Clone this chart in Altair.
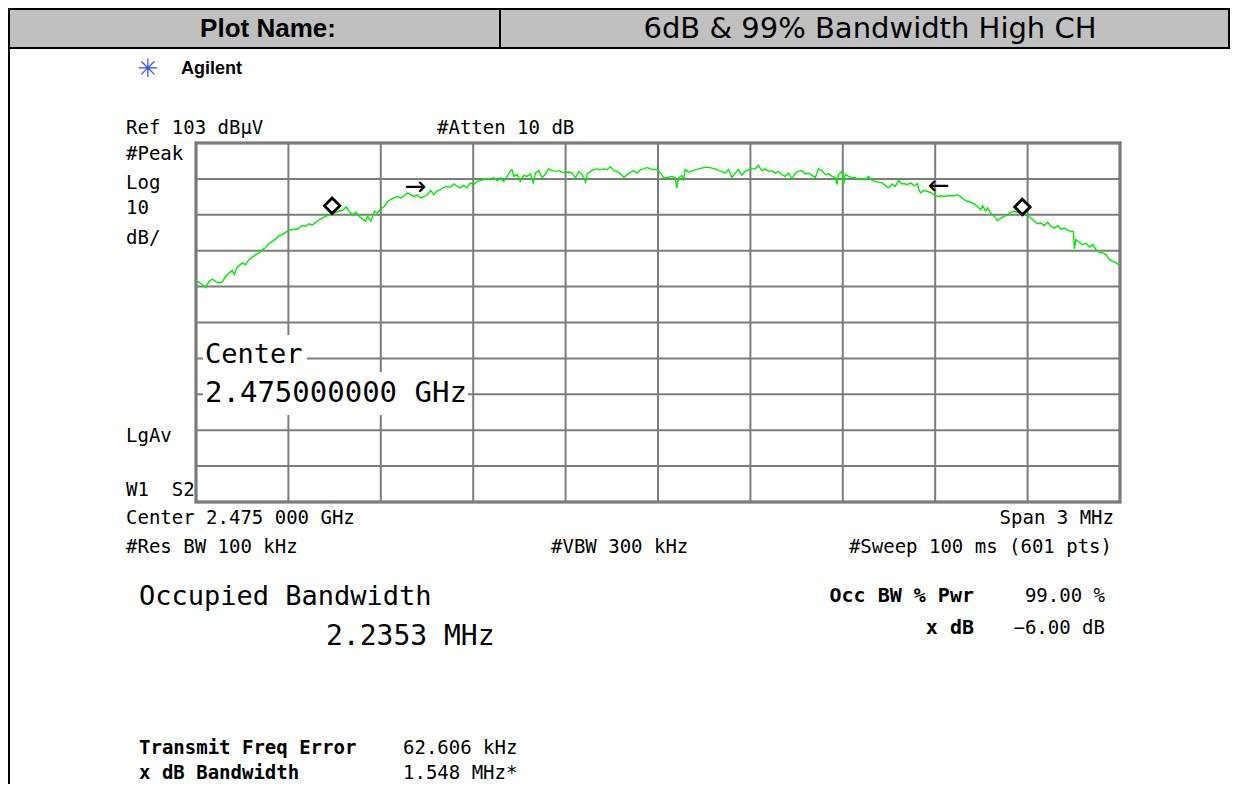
import altair as alt
import pandas as pd

CENTER_GHZ = 2.475
# frequency offset from centre (MHz) and level (dBuV) of the green trace
offset_mhz = [
    -1.500, -1.490, -1.479, -1.469, -1.458, -1.447, -1.436, -1.425, -1.414, -1.404,
    -1.393, -1.382, -1.376, -1.366, -1.349, -1.339, -1.328, -1.317, -1.306, -1.295,
    -1.284, -1.274, -1.263, -1.252, -1.241, -1.230, -1.220, -1.209, -1.198, -1.187,
    -1.176, -1.165, -1.155, -1.144, -1.133, -1.122, -1.111, -1.101, -1.090, -1.079,
    -1.068, -1.057, -1.046, -1.036, -1.025, -1.012, -1.003, -0.992, -0.981, -0.970,
    -0.960, -0.949, -0.943, -0.932, -0.921, -0.911, -0.900, -0.889, -0.878, -0.868,
    -0.857, -0.846, -0.835, -0.824, -0.813, -0.803, -0.792, -0.781, -0.770, -0.759,
    -0.749, -0.738, -0.728, -0.717, -0.706, -0.696, -0.685, -0.674, -0.663, -0.652,
    -0.641, -0.631, -0.620, -0.609, -0.598, -0.587, -0.577, -0.566, -0.555, -0.544,
    -0.533, -0.522, -0.512, -0.501, -0.490, -0.479, -0.474, -0.468, -0.457, -0.447,
    -0.436, -0.425, -0.414, -0.405, -0.398, -0.387, -0.376, -0.365, -0.355, -0.344,
    -0.333, -0.322, -0.311, -0.300, -0.290, -0.279, -0.268, -0.257, -0.246, -0.235,
    -0.230, -0.219, -0.209, -0.197, -0.187, -0.176, -0.165, -0.154, -0.144, -0.133,
    -0.122, -0.111, -0.100, -0.089, -0.079, -0.068, -0.057, -0.046, -0.035, -0.024,
    -0.014, -0.003, 0.008, 0.019, 0.030, 0.045, 0.056, 0.061, 0.067, 0.077,
    0.083, 0.088, 0.099, 0.110, 0.121, 0.132, 0.142, 0.153, 0.164, 0.175,
    0.186, 0.197, 0.207, 0.218, 0.229, 0.240, 0.251, 0.261, 0.272, 0.283,
    0.294, 0.305, 0.316, 0.326, 0.337, 0.348, 0.359, 0.370, 0.381, 0.391,
    0.402, 0.413, 0.424, 0.435, 0.446, 0.456, 0.467, 0.478, 0.489, 0.500,
    0.511, 0.521, 0.532, 0.543, 0.554, 0.565, 0.576, 0.581, 0.586, 0.597,
    0.603, 0.608, 0.619, 0.630, 0.640, 0.651, 0.662, 0.673, 0.684, 0.695,
    0.705, 0.716, 0.727, 0.738, 0.749, 0.760, 0.770, 0.781, 0.792, 0.798,
    0.809, 0.820, 0.831, 0.842, 0.847, 0.853, 0.864, 0.875, 0.886, 0.896,
    0.907, 0.918, 0.929, 0.940, 0.950, 0.961, 0.972, 0.983, 0.994, 1.005,
    1.015, 1.026, 1.037, 1.048, 1.054, 1.064, 1.070, 1.080, 1.091, 1.102,
    1.113, 1.124, 1.135, 1.145, 1.156, 1.167, 1.178, 1.189, 1.200, 1.211,
    1.222, 1.232, 1.243, 1.254, 1.265, 1.276, 1.287, 1.298, 1.308, 1.319,
    1.330, 1.341, 1.349, 1.352, 1.357, 1.368, 1.379, 1.390, 1.401, 1.412,
    1.422, 1.433, 1.444, 1.455, 1.466, 1.477, 1.488, 1.500,
]
level_dbuv = [
    64.7, 64.2, 63.5, 62.7, 64.4, 65.1, 64.4, 64.0, 64.4, 65.8,
    66.8, 67.5, 66.3, 68.5, 69.6, 69.1, 70.5, 71.2, 71.9, 72.4,
    73.3, 73.8, 75.0, 75.6, 76.3, 77.2, 77.5, 78.1, 78.7, 78.9,
    78.9, 79.3, 80.0, 79.8, 80.5, 80.2, 80.9, 81.6, 82.1, 82.6,
    83.0, 83.5, 83.7, 84.0, 84.2, 85.2, 84.0, 83.0, 83.7, 82.6,
    81.8, 81.2, 82.6, 81.2, 84.0, 83.5, 84.6, 85.3, 86.7, 87.2,
    87.7, 88.1, 87.7, 88.3, 89.1, 88.6, 88.1, 88.5, 87.7, 88.1,
    88.6, 89.8, 88.6, 89.7, 90.0, 90.6, 90.9, 90.7, 91.6, 90.9,
    90.5, 91.2, 90.5, 91.9, 91.4, 92.3, 92.5, 92.8, 93.1, 93.0,
    93.3, 92.5, 93.3, 92.3, 93.7, 95.3, 95.6, 93.7, 94.2, 92.3,
    94.0, 93.7, 94.4, 91.9, 94.6, 95.3, 93.3, 94.4, 95.8, 95.3,
    95.1, 95.3, 94.9, 94.8, 94.9, 94.6, 93.3, 95.1, 94.2, 92.1,
    94.4, 95.1, 95.6, 95.8, 95.6, 95.8, 95.6, 96.4, 95.3, 95.1,
    94.4, 93.4, 94.2, 94.9, 95.3, 94.6, 95.6, 95.8, 96.2, 95.8,
    95.6, 95.6, 94.6, 93.3, 93.4, 93.7, 93.3, 90.5, 93.3, 94.0,
    92.5, 95.6, 94.9, 95.1, 95.6, 95.8, 96.0, 96.2, 96.2, 96.0,
    95.8, 95.3, 95.1, 94.6, 95.6, 93.4, 94.6, 95.6, 94.0, 95.1,
    95.6, 95.8, 95.8, 96.8, 95.3, 95.8, 95.1, 95.3, 94.6, 95.1,
    94.2, 93.7, 94.6, 93.1, 94.6, 95.1, 95.3, 94.4, 94.6, 94.0,
    93.4, 95.8, 95.3, 94.2, 94.4, 93.7, 93.3, 91.4, 94.2, 95.1,
    91.6, 94.2, 93.7, 93.3, 93.4, 92.8, 93.1, 92.8, 93.7, 92.5,
    92.3, 92.1, 91.9, 91.2, 90.5, 91.6, 90.9, 92.5, 91.6, 91.7,
    91.4, 91.9, 91.1, 91.7, 90.0, 89.1, 89.8, 89.5, 89.2, 88.6,
    88.1, 88.3, 88.1, 88.3, 88.3, 88.3, 88.6, 88.0, 87.2, 86.7,
    86.5, 86.1, 85.3, 84.4, 85.5, 84.0, 84.9, 83.5, 82.7, 81.4,
    82.1, 82.6, 83.0, 83.7, 84.0, 83.7, 84.0, 83.5, 82.7, 82.1,
    81.2, 80.5, 80.7, 80.0, 80.9, 79.8, 79.3, 80.0, 79.0, 79.3,
    78.7, 78.4, 78.3, 73.5, 76.1, 75.3, 74.7, 75.1, 74.0, 74.7,
    73.3, 72.5, 72.4, 71.9, 70.5, 70.0, 69.6, 68.8,
]

# occupied-bandwidth markers (diamonds) and x-dB arrows
marker_offset = [-1.058, 1.183]
marker_level = [85.5, 85.2]
arrow_offset = [-0.787, 0.912]
arrow_level = [90.7, 90.9]
arrow_glyph = ["\u2192", "\u2190"]

# graticule: span 3 MHz in 10 divisions, ref 103 dBuV, 10 dB/div
x_grid = [-1.5, -1.2, -0.9, -0.6, -0.3, 0.0, 0.3, 0.6, 0.9, 1.2, 1.5]
y_grid = [3, 13, 23, 33, 43, 53, 63, 73, 83, 93, 103]

# ---------------- layout ----------------
OX, OY = 196, 143          # page position of the graticule's top-left corner
W, H = 924, 359            # graticule size
CANVAS_W, CANVAS_H = 1222, 776
MONO = "DejaVu Sans Mono"
NB = "\u00a0"
one = alt.Data(values=[{}])


def label(text, px, py, size=19, weight="normal", font=MONO, align="left", color="black"):
    return alt.Chart(one).mark_text(
        text=text, align=align, baseline="middle", fontSize=size,
        fontWeight=weight, font=font, color=color,
    ).encode(x=alt.value(px - OX), y=alt.value(py - OY))


def box(x0, y0, x1, y1, **kw):
    return alt.Chart(one).mark_rect(**kw).encode(
        x=alt.value(x0 - OX), x2=alt.value(x1 - OX),
        y=alt.value(y0 - OY), y2=alt.value(y1 - OY),
    )


def vline(px, y0, y1, color="black", width=2):
    return alt.Chart(one).mark_rule(color=color, strokeWidth=width).encode(
        x=alt.value(px - OX), y=alt.value(y0 - OY), y2=alt.value(y1 - OY)
    )


trace = pd.DataFrame({"offset_mhz": offset_mhz, "level": level_dbuv})
trace["freq_ghz"] = CENTER_GHZ + trace["offset_mhz"] / 1000.0
markers = pd.DataFrame({"offset_mhz": marker_offset, "level": marker_level})
arrows = pd.DataFrame({"offset_mhz": arrow_offset, "level": arrow_level, "glyph": arrow_glyph})
gx = pd.DataFrame({"offset_mhz": x_grid})
gy = pd.DataFrame({"level": y_grid})

xs = alt.Scale(domain=[-1.5, 1.5], nice=False, zero=False)
ys = alt.Scale(domain=[3, 103], nice=False, zero=False)
X = alt.X("offset_mhz:Q", scale=xs, axis=None)
Y = alt.Y("level:Q", scale=ys, axis=None)

grid_x = alt.Chart(gx).mark_rule(color="#7c7c7c", strokeWidth=2).encode(x=X)
grid_y = alt.Chart(gy).mark_rule(color="#7c7c7c", strokeWidth=2).encode(y=Y)

line = alt.Chart(trace).mark_line(color="#00ea00", strokeWidth=1.4).encode(x=X, y=Y)
diamonds = alt.Chart(markers).mark_point(
    shape="diamond", size=240, filled=True, fill="white", stroke="black",
    strokeWidth=2.8, opacity=1,
).encode(x=X, y=Y)
arrow_marks = alt.Chart(arrows).mark_text(
    font="DejaVu Sans", fontSize=26, color="black", baseline="middle"
).encode(x=X, y=Y, text="glyph:N")

layers = [
    # header band
    box(9, 9, 1229, 48, fill="#c0c0c0", stroke="black", strokeWidth=2),
    vline(500, 9, 48),
    vline(9, 48, 8 + CANVAS_H),
    label("Plot Name:", 268, 29, size=26, weight="bold", font="Liberation Sans", align="center"),
    label("6dB & 99% Bandwidth High CH", 870, 29, size=29, font="DejaVu Sans", align="center"),
    # Agilent logo
    label("\u2733", 148, 69, size=25, font="DejaVu Sans", align="center", color="#3a55e0"),
    label("Agilent", 181, 69, size=18, weight="bold", font="Liberation Sans"),
    # graticule
    grid_x, grid_y,
    # white boxes behind the centre readout
    box(203, 335, 307, 372, fill="white"),
    box(203, 372, 468, 415, fill="white"),
    line, diamonds, arrow_marks,
    # instrument annotations
    label("Ref 103 dB\u00b5V", 126, 128),
    label("#Atten 10 dB", 437, 128),
    label("#Peak", 126, 154),
    label("Log", 126, 183),
    label("10", 126, 208),
    label("dB/", 126, 238),
    label("LgAv", 126, 436),
    label("W1" + NB + NB + "S2", 126, 490),
    label("Center", 205, 355, size=27),
    label("2.475000000 GHz", 205, 393, size=29),
    label("Center 2.475 000 GHz", 126, 518),
    label("Span 3 MHz", 1114, 518, align="right"),
    label("#Res BW 100 kHz", 126, 547),
    label("#VBW 300 kHz", 551, 547),
    label("#Sweep 100 ms (601 pts)", 1112, 547, align="right"),
    label("Occupied Bandwidth", 139, 597, size=27),
    label("2.2353 MHz", 326, 637, size=28),
    label("Occ BW % Pwr", 974, 596, size=20, weight="bold", align="right"),
    label("99.00 %", 1105, 596, align="right"),
    label("x dB", 974, 628, size=20, weight="bold", align="right"),
    label("\u22126.00 dB", 1105, 628, align="right"),
    label("Transmit Freq Error", 139, 748, weight="bold"),
    label("x dB Bandwidth", 139, 773, weight="bold"),
    label("62.606 kHz", 403, 748),
    label("1.548 MHz*", 403, 773),
]

chart = alt.layer(*layers).properties(
    width=W, height=H,
    autosize=alt.AutoSizeParams(type="none"),
    padding={"left": OX - 8, "top": OY - 8,
             "right": CANVAS_W - (OX - 8) - W, "bottom": CANVAS_H - (OY - 8) - H},
    background="white",
).configure_view(stroke="#5c5c5c", strokeWidth=3)

chart.save("out.html", embed_options={"renderer": "svg", "actions": False})
